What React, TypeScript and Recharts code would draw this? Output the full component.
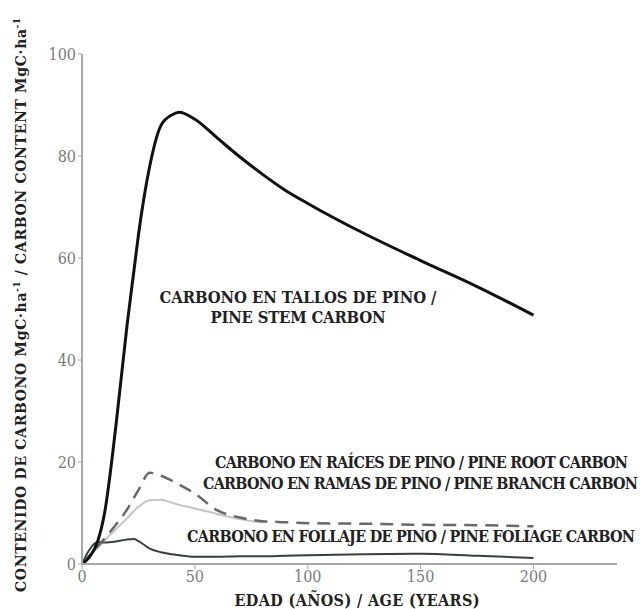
import { LineChart, Line, XAxis, YAxis } from 'recharts';

const ages = [0, 3, 7, 10, 15, 20, 23, 25, 30, 35, 40, 43, 50, 60, 70, 80, 90, 100, 125, 150, 175, 200];
const stemCarbon = [0, 1.2, 4.5, 10, 27, 47, 57.5, 64.5, 78, 86, 88.1, 88.6, 87.2, 83.5, 79.8, 76.4, 73.3, 70.7, 64.8, 59.5, 54.4, 48.8];
const rootCarbon = [0, 1.5, 3.5, 5, 7.7, 10.7, 13, 14.5, 17.9, 17.3, 16.3, 15.6, 13.8, 10.5, 9.1, 8.4, 8.2, 8, 7.9, 7.7, 7.6, 7.4];
const branchCarbon = [0, 1.4, 3.2, 4.6, 6.8, 9, 10.4, 11.2, 12.5, 12.6, 12, 11.6, 10.9, 9.8, 8.8, 8.1, null, null, null, null, null, null];
const foliageCarbon = [0, 2.6, 4.3, 4.2, 4.4, 4.8, 4.9, 4.5, 3, 2.3, 1.9, 1.7, 1.4, 1.4, 1.5, 1.5, 1.6, 1.7, 1.9, 2, 1.6, 1.2];

const xTicks = [0, 50, 100, 150, 200];
const yTicks = [0, 20, 40, 60, 80, 100];

const data = ages.map((age, i) => ({
  age,
  stem: stemCarbon[i],
  root: rootCarbon[i],
  branch: branchCarbon[i],
  foliage: foliageCarbon[i],
}));

const serif = 'DejaVu Serif Condensed, DejaVu Serif';
const tickStyle = { fill: '#7a7a7a', fontSize: 16, fontFamily: serif };

export default function App() {
  return (
    <div style={{ position: 'absolute', left: 0, top: 0, width: 641, height: 609, background: '#fff' }}>
      <LineChart
        width={641}
        height={609}
        data={data}
        margin={{ top: 54, right: 24, bottom: 15, left: 22 }}
      >
        <XAxis
          dataKey="age"
          type="number"
          domain={[0, 237]}
          ticks={xTicks}
          height={30}
          tickSize={5}
          tick={tickStyle}
          axisLine={{ stroke: '#a8a8a8', strokeWidth: 2 }}
          tickLine={{ stroke: '#a8a8a8' }}
        />
        <YAxis
          type="number"
          domain={[0, 100]}
          ticks={yTicks}
          width={60}
          tickSize={4}
          tick={tickStyle}
          axisLine={{ stroke: '#a8a8a8', strokeWidth: 2 }}
          tickLine={{ stroke: '#a8a8a8' }}
        />
        <Line dataKey="branch" type="monotone" stroke="#c4c4c4" strokeWidth={2} dot={false} isAnimationActive={false} />
        <Line dataKey="foliage" type="monotone" stroke="#36413a" strokeWidth={2} dot={false} isAnimationActive={false} />
        <Line dataKey="root" type="monotone" stroke="#666a62" strokeWidth={2.5} strokeDasharray="13 8" dot={false} isAnimationActive={false} />
        <Line dataKey="stem" type="monotone" stroke="#111" strokeWidth={3} dot={false} isAnimationActive={false} />
      </LineChart>

      <svg
        width={641}
        height={609}
        style={{ position: 'absolute', left: 0, top: 0, pointerEvents: 'none' }}
        fontFamily={serif}
        fontWeight="bold"
        fill="#222"
      >
        <text x={298} y={303} fontSize={16.5} textAnchor="middle" textLength={277}>CARBONO EN TALLOS DE PINO /</text>
        <text x={298} y={323} fontSize={16.5} textAnchor="middle" textLength={175}>PINE STEM CARBON</text>
        <text x={215} y={468} fontSize={16} textLength={413}>CARBONO EN RAÍCES DE PINO / PINE ROOT CARBON</text>
        <text x={203} y={489} fontSize={16} textLength={435}>CARBONO EN RAMAS DE PINO / PINE BRANCH CARBON</text>
        <text x={187} y={542} fontSize={16} textLength={448}>CARBONO EN FOLLAJE DE PINO / PINE FOLIAGE CARBON</text>
        <text x={357} y={606} fontSize={16} textAnchor="middle" textLength={245}>EDAD (AÑOS) / AGE (YEARS)</text>
        <text
          transform="translate(26,305) rotate(-90)"
          fontSize={15.5}
          textAnchor="middle"
          textLength={574}
        >
          CONTENIDO DE CARBONO MgC·ha<tspan dy={-6} fontSize={9.5}>-1</tspan>
          <tspan dy={6}> / CARBON CONTENT MgC·ha</tspan>
          <tspan dy={-6} fontSize={9.5}>-1</tspan>
        </text>
      </svg>
    </div>
  );
}
